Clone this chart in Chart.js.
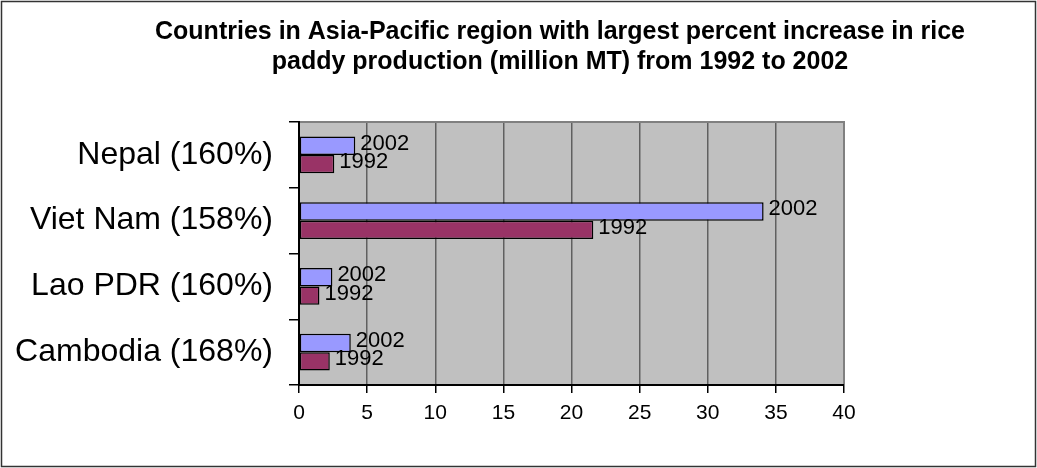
<!DOCTYPE html>
<html>
<head>
<meta charset="utf-8">
<script src="https://cdn.jsdelivr.net/npm/chart.js@4/dist/chart.umd.min.js"></script>
<style>
  html, body { margin: 0; padding: 0; background: #fff; }
  #wrap { width: 1037px; height: 468px; position: relative; }
</style>
</head>
<body>
<div id="wrap"><canvas id="riceChart"></canvas></div>
<script>
// Rice paddy production, million MT
const countries = ["Nepal (160%)", "Viet Nam (158%)", "Lao PDR (160%)", "Cambodia (168%)"];
const prod2002 = [4.13, 34.1, 2.45, 3.8];
const prod1992 = [2.59, 21.6, 1.5, 2.26];
const seriesNames = ["2002", "1992"];
const titleLines = [
    "Countries in Asia-Pacific region with largest percent increase in rice",
    "paddy production (million MT) from 1992 to 2002"
];

const FONT = "'Liberation Sans', Arial, sans-serif";

// grey plot area, borders, outer frame and the title
const frame = {
    id: "frame",
    beforeDraw(chart) {
        const { ctx, chartArea: a } = chart;
        ctx.save();
        ctx.fillStyle = "#fff";
        ctx.fillRect(0, 0, chart.width, chart.height);
        ctx.fillStyle = "#c0c0c0";
        ctx.fillRect(a.left, a.top, a.right - a.left, a.bottom - a.top);
        ctx.restore();
    },
    afterDraw(chart) {
        const { ctx, chartArea: a } = chart;
        ctx.save();
        ctx.strokeStyle = "#808080";
        ctx.lineWidth = 2;
        ctx.beginPath();
        ctx.moveTo(a.left, a.top);
        ctx.lineTo(a.right, a.top);
        ctx.lineTo(a.right, a.bottom);
        ctx.stroke();
        ctx.strokeStyle = "#000";
        ctx.lineWidth = 2;
        ctx.beginPath();
        ctx.moveTo(a.left, a.top - 1);
        ctx.lineTo(a.left, a.bottom);
        ctx.lineTo(a.right, a.bottom);
        ctx.stroke();
        ctx.strokeStyle = "#333";
        ctx.lineWidth = 1.5;
        ctx.strokeRect(1.5, 1.5, chart.width - 3, chart.height - 3);

        ctx.fillStyle = "#000";
        ctx.font = "bold 25px " + FONT;
        ctx.textAlign = "center";
        ctx.textBaseline = "middle";
        titleLines.forEach((line, i) => ctx.fillText(line, 560, 32 + i * 30));
        ctx.restore();
    }
};

// series name written at the end of each bar
const barLabels = {
    id: "barLabels",
    afterDatasetsDraw(chart) {
        const ctx = chart.ctx;
        ctx.save();
        ctx.font = "22px " + FONT;
        ctx.fillStyle = "#000";
        ctx.textBaseline = "middle";
        ctx.textAlign = "left";
        chart.data.datasets.forEach((ds, i) => {
            chart.getDatasetMeta(i).data.forEach(bar => {
                ctx.fillText(ds.label, bar.x + 5, bar.y - 2);
            });
        });
        ctx.restore();
    }
};

new Chart(document.getElementById("riceChart"), {
    type: "bar",
    data: {
        labels: countries,
        datasets: [{
            label: seriesNames[0],
            data: prod2002,
            backgroundColor: "#9999ff",
            borderColor: "#000",
            borderWidth: 1.5,
            borderSkipped: false
        }, {
            label: seriesNames[1],
            data: prod1992,
            backgroundColor: "#993366",
            borderColor: "#000",
            borderWidth: 1.5,
            borderSkipped: false
        }]
    },
    options: {
        indexAxis: "y",
        responsive: true,
        maintainAspectRatio: false,
        animation: false,
        categoryPercentage: 0.56,
        barPercentage: 1,
        layout: { padding: { left: 0, right: 193, top: 122, bottom: 0 } },
        plugins: {
            legend: { display: false },
            tooltip: { enabled: false },
            title: { display: false }
        },
        scales: {
            x: {
                min: 0,
                max: 40,
                ticks: { stepSize: 5, color: "#000", font: { family: FONT, size: 21 }, padding: 8 },
                grid: { color: "#606060", lineWidth: 1.5, tickColor: "#000", tickLength: 8 },
                border: { display: false },
                afterFit(scale) { scale.height = 83; }
            },
            y: {
                ticks: { color: "#000", font: { family: FONT, size: 32 }, padding: 16 },
                grid: { offset: true, drawOnChartArea: false, tickColor: "#000", tickLength: 10, lineWidth: 1.5 },
                border: { display: false },
                afterFit(scale) { scale.width = 299; }
            }
        }
    },
    plugins: [frame, barLabels]
});
</script>
</body>
</html>
